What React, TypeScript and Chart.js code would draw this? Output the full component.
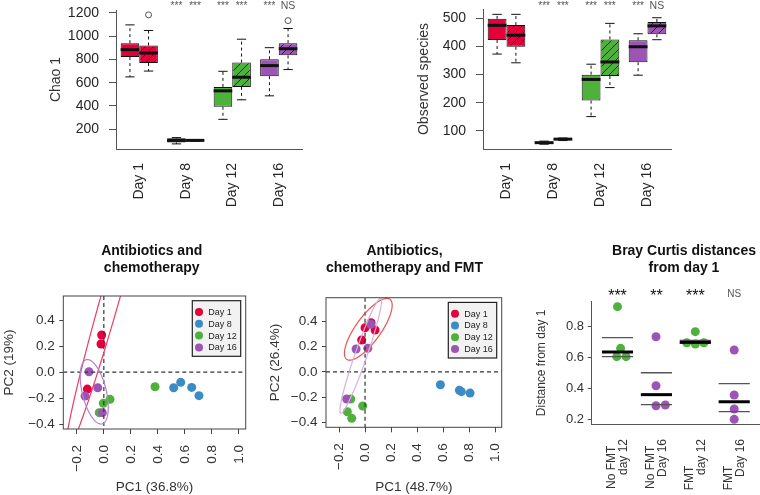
import React, { useEffect, useRef } from 'react';
import { Chart, registerables } from 'chart.js';

Chart.register(...registerables);

const FF = "'Liberation Sans', Arial, Helvetica, sans-serif";

const RED = '#E5003B';
const BLUE = '#3B8BC7';
const GREEN = '#4EB13C';
const PURPLE = '#9D55B5';
const DAY_COLORS = [RED, BLUE, GREEN, PURPLE];
const BOX_COLORS = [RED, '#111111', GREEN, PURPLE];

// ---------------- Top: alpha diversity box plots ----------------
const dayLabels = ['Day 1', 'Day 8', 'Day 12', 'Day 16'];

// five-number summaries: [lower whisker, Q1, median, Q3, upper whisker]
const chaoNoFmt = [[650, 820, 884, 940, 1097], [74, 86, 104, 122, 128], [285, 393, 530, 564, 698], [487, 656, 747, 801, 901]];
const chaoFmt = [[700, 769, 855, 920, 1049], [97, 100, 104, 108, 112], [453, 564, 647, 773, 974], [713, 835, 892, 940, 1066]];
const chaoNoFmtOutliers = [[], [], [], []];
const chaoFmtOutliers = [[1183], [], [], [1134]];
const chaoTicks = [200, 400, 600, 800, 1000, 1200];
const chaoRange = [30, 1225];

const obsNoFmt = [[373, 423, 475, 498, 514], [53, 55, 58.5, 62, 64], [151, 208, 283, 300, 337], [298, 344, 399, 422, 445]];
const obsFmt = [[342, 399, 440, 476, 514], [66, 68.5, 71, 73.5, 75], [254, 295, 345, 425, 482], [424, 443, 473, 487, 502]];
const obsNoFmtOutliers = [[], [], [], []];
const obsFmtOutliers = [[], [], [], []];
const obsTicks = [100, 200, 300, 400, 500];
const obsRange = [36, 533];

const signifNoFmt = ['', '***', '***', '***'];
const signifFmt = ['', '***', '***', 'NS'];

// ---------------- Bottom: PCA ----------------
const pcaLegend = ['Day 1', 'Day 8', 'Day 12', 'Day 16'];
const pcaXTicks = [-0.2, 0, 0.2, 0.4, 0.6, 0.8, 1.0];
const pcaYTicks = [-0.4, -0.2, 0, 0.2, 0.4];
const pcaXRange = [-0.3, 1.05];
const pcaYRange = [-0.438, 0.588];

// Antibiotics and chemotherapy: [PC1, PC2]
const abxDay1 = [[-0.016, 0.287], [-0.021, 0.218], [-0.122, -0.13]];
const abxDay8 = [[0.517, -0.12], [0.569, -0.078], [0.65, -0.117], [0.704, -0.181]];
const abxDay12 = [[-0.004, -0.24], [0.046, -0.209], [-0.034, -0.312], [0.379, -0.112]];
const abxDay16 = [[-0.11, 0.004], [-0.045, -0.12], [-0.139, -0.184], [-0.011, -0.312]];
// ellipses: [centre x, centre y, axis1 x, axis1 y, axis2 x, axis2 y]
const abxEllipseDay1 = [0.051, 0.588, -0.33, -1.213, 0.0668, -0.0198];
const abxEllipseDay16 = [-0.071, -0.151, 0.0577, -0.2477, 0.0863, 0.0218];

// Antibiotics, chemotherapy and FMT
const fmtDay1 = [[-0.026, 0.253], [0, 0.35], [0.046, 0.39], [0.077, 0.332]];
const fmtDay8 = [[0.579, -0.101], [0.725, -0.145], [0.74, -0.156], [0.807, -0.167]];
const fmtDay12 = [[-0.11, -0.214], [-0.136, -0.315], [-0.102, -0.367], [-0.018, -0.269]];
const fmtDay16 = [[0.044, 0.377], [-0.069, 0.182], [0.021, 0.187], [-0.141, -0.214]];
const fmtEllipseDay1 = [0.025, 0.338, 0.166, 0.2375, 0.078, -0.0579];
const fmtEllipseDay16 = [-0.033, 0.128, 0.1537, 0.455, 0.0435, -0.0156];

// ---------------- Bray Curtis ----------------
const brayGroups = [['No FMT  ', 'day 12'], ['No FMT  ', 'Day 16'], ['FMT        ', 'day 12'], ['FMT        ', 'Day 16']];
const brayValues = [[0.93, 0.66, 0.606, 0.606], [0.735, 0.418, 0.288, 0.293], [0.768, 0.696, 0.688, 0.696], [0.649, 0.358, 0.267, 0.2]];
const brayPositions = [[1.0, 1.08, 0.98, 1.22], [1.99, 1.99, 1.99, 2.23], [3.0, 2.78, 3.0, 3.22], [4.0, 4.0, 4.0, 4.0]];
const brayColors = [GREEN, PURPLE, GREEN, PURPLE];
const brayMedian = [0.636, 0.36, 0.699, 0.314];
const brayQ1 = [0.606, 0.295, 0.694, 0.25];
const brayQ3 = [0.729, 0.502, 0.712, 0.431];
const braySignif = ['***', '**', '***', 'NS'];
const brayYTicks = [0.2, 0.4, 0.6, 0.8];
const brayXTicks = [1, 2, 3, 4];
const brayXRange = [0.337, 4.663];
const brayYRange = [0.17, 0.962];

// ---------------- helpers ----------------
const fixW = (w: number) => (s: any) => {
  s.width = w;
  s.paddingTop = 0; s.paddingBottom = 0; s.paddingLeft = 0; s.paddingRight = 0;
};
const fixH = (h: number) => (s: any) => {
  s.height = h;
  s.paddingTop = 0; s.paddingBottom = 0; s.paddingLeft = 0; s.paddingRight = 0;
};
const setTicks = (vals: number[]) => (s: any) => {
  s.ticks = vals.map((v) => ({ value: v }));
};
const fmtNum = (v: number) => (v < 0 ? '\u2212' : '') + Math.abs(v).toFixed(1);

function hatch(color: string): CanvasPattern {
  const s = 8;
  const c = document.createElement('canvas');
  c.width = s; c.height = s;
  const g = c.getContext('2d')!;
  g.fillStyle = color;
  g.fillRect(0, 0, s, s);
  g.strokeStyle = '#1a1a1a';
  g.lineWidth = 0.9;
  g.beginPath();
  g.moveTo(0, s); g.lineTo(s, 0);
  g.moveTo(-2, 2); g.lineTo(2, -2);
  g.moveTo(s - 2, s + 2); g.lineTo(s + 2, s - 2);
  g.stroke();
  return g.createPattern(c, 'repeat')!;
}

type TextItem = { lines: string[]; x: number; y: number; font: string; color: string; lh: number };
const titlePlugin = (items: TextItem[]) => ({
  id: 'titles',
  afterDraw(chart: any) {
    const ctx = chart.ctx;
    ctx.save();
    items.forEach((it) => {
      ctx.font = it.font;
      ctx.fillStyle = it.color;
      ctx.textAlign = 'center';
      ctx.textBaseline = 'alphabetic';
      it.lines.forEach((l, i) => ctx.fillText(l, it.x, it.y + i * it.lh));
    });
    ctx.restore();
  },
});

function ChartCanvas({ left, top, width, height, build }: { left: number; top: number; width: number; height: number; build: () => any }) {
  const ref = useRef<HTMLCanvasElement>(null);
  useEffect(() => {
    const chart = new Chart(ref.current!, build());
    return () => chart.destroy();
  }, []);
  return (
    <canvas
      ref={ref}
      width={width}
      height={height}
      style={{ position: 'absolute', left, top, width, height }}
    />
  );
}

// ---------------- box plot ----------------
function boxConfig(opts: {
  noFmt: number[][]; fmt: number[][]; noFmtOut: number[][]; fmtOut: number[][];
  ticks: number[]; range: number[]; title: string;
  padLeft: number; yWidth: number; padTop: number; padRight: number;
}) {
  const stats = [opts.noFmt, opts.fmt];
  const outs = [opts.noFmtOut, opts.fmtOut];
  const signif = [signifNoFmt, signifFmt];
  const boxExtras = {
    id: 'boxExtras',
    afterDatasetsDraw(chart: any) {
      const ctx = chart.ctx;
      const ys = chart.scales.y;
      ctx.save();
      stats.forEach((series, di) => {
        const meta = chart.getDatasetMeta(di);
        series.forEach((s, j) => {
          const el: any = meta.data[j];
          const x = el.x;
          const w = el.width;
          const [lo, q1, med, q3, hi] = s;
          const pLo = ys.getPixelForValue(lo);
          const pQ1 = ys.getPixelForValue(q1);
          const pMed = ys.getPixelForValue(med);
          const pQ3 = ys.getPixelForValue(q3);
          const pHi = ys.getPixelForValue(hi);
          ctx.strokeStyle = '#111';
          ctx.lineWidth = 1;
          ctx.setLineDash([3, 3]);
          ctx.beginPath();
          ctx.moveTo(x, pQ3); ctx.lineTo(x, pHi);
          ctx.moveTo(x, pQ1); ctx.lineTo(x, pLo);
          ctx.stroke();
          ctx.setLineDash([]);
          ctx.beginPath();
          ctx.moveTo(x - w / 4, pHi); ctx.lineTo(x + w / 4, pHi);
          ctx.moveTo(x - w / 4, pLo); ctx.lineTo(x + w / 4, pLo);
          ctx.stroke();
          ctx.lineWidth = 3;
          ctx.beginPath();
          ctx.moveTo(x - w / 2, pMed); ctx.lineTo(x + w / 2, pMed);
          ctx.stroke();
          ctx.lineWidth = 1;
          ctx.strokeStyle = '#555';
          outs[di][j].forEach((o) => {
            ctx.beginPath();
            ctx.arc(x, ys.getPixelForValue(o), 3, 0, Math.PI * 2);
            ctx.stroke();
          });
          const sig = signif[di][j];
          if (sig) {
            ctx.fillStyle = '#555';
            ctx.textAlign = 'center';
            ctx.textBaseline = 'alphabetic';
            ctx.font = sig === 'NS' ? `10.5px ${FF}` : `10px ${FF}`;
            ctx.fillText(sig, x, 8.5);
          }
        });
      });
      ctx.restore();
    },
  };
  return {
    type: 'bar',
    data: {
      labels: dayLabels,
      datasets: [
        {
          data: opts.noFmt.map((s) => [s[1], s[3]]),
          backgroundColor: BOX_COLORS,
          borderColor: '#111',
          borderWidth: 1,
          borderSkipped: false,
          categoryPercentage: 0.8,
          barPercentage: 1,
        },
        {
          data: opts.fmt.map((s) => [s[1], s[3]]),
          backgroundColor: BOX_COLORS.map((c) => hatch(c)),
          borderColor: '#111',
          borderWidth: 1,
          borderSkipped: false,
          categoryPercentage: 0.8,
          barPercentage: 1,
        },
      ],
    },
    options: {
      responsive: false,
      animation: false,
      events: [],
      layout: { padding: { left: opts.padLeft, top: opts.padTop, right: opts.padRight, bottom: 11 } },
      plugins: { legend: { display: false }, tooltip: { enabled: false } },
      scales: {
        x: {
          type: 'category',
          offset: true,
          grid: { display: false, drawTicks: false },
          border: { display: true, color: '#555', width: 1 },
          ticks: {
            autoSkip: false, minRotation: 90, maxRotation: 90, padding: 14,
            color: '#262626', font: { family: FF, size: 14 },
          },
          afterFit: fixH(70),
        },
        y: {
          min: opts.range[0],
          max: opts.range[1],
          beginAtZero: false,
          afterBuildTicks: setTicks(opts.ticks),
          grid: { display: true, drawOnChartArea: false, drawTicks: true, tickLength: 7, color: '#555' },
          border: { display: true, color: '#555', width: 1 },
          ticks: { padding: 10, color: '#262626', font: { family: FF, size: 14 }, callback: (v: number) => String(v) },
          title: { display: true, text: opts.title, color: '#333', font: { family: FF, size: 14 }, padding: { top: 0, bottom: 0 } },
          afterFit: fixW(opts.yWidth),
        },
      },
    },
    plugins: [boxExtras],
  };
}

// ---------------- PCA ----------------
function pcaConfig(opts: {
  day1: number[][]; day8: number[][]; day12: number[][]; day16: number[][];
  ell1: number[]; ell16: number[]; ell1Color: string; ell16Color: string;
  xTitle: string; yTitle: string; title: string[]; titleX: number;
  padLeft: number; yWidth: number; padTop: number; padRight: number; xHeight: number;
}) {
  const sets = [opts.day1, opts.day8, opts.day12, opts.day16];
  const extras = {
    id: 'pcaExtras',
    afterDatasetsDraw(chart: any) {
      const ctx = chart.ctx;
      const xs = chart.scales.x;
      const ys = chart.scales.y;
      const a = chart.chartArea;
      ctx.save();
      ctx.beginPath();
      ctx.rect(a.left, a.top, a.right - a.left, a.bottom - a.top);
      ctx.clip();
      // zero lines
      ctx.strokeStyle = '#333';
      ctx.lineWidth = 1.2;
      ctx.setLineDash([4, 3]);
      ctx.beginPath();
      ctx.moveTo(a.left, ys.getPixelForValue(0)); ctx.lineTo(a.right, ys.getPixelForValue(0));
      ctx.moveTo(xs.getPixelForValue(0), a.top); ctx.lineTo(xs.getPixelForValue(0), a.bottom);
      ctx.stroke();
      ctx.setLineDash([]);
      const ell = (e: number[], color: string) => {
        const [cx, cy, ax, ay, bx, by] = e;
        ctx.beginPath();
        for (let i = 0; i <= 240; i++) {
          const t = (i / 240) * Math.PI * 2;
          const X = cx + ax * Math.cos(t) + bx * Math.sin(t);
          const Y = cy + ay * Math.cos(t) + by * Math.sin(t);
          const px = xs.getPixelForValue(X);
          const py = ys.getPixelForValue(Y);
          if (i === 0) ctx.moveTo(px, py); else ctx.lineTo(px, py);
        }
        ctx.strokeStyle = color;
        ctx.lineWidth = 1.2;
        ctx.stroke();
      };
      ell(opts.ell1, opts.ell1Color);
      ell(opts.ell16, opts.ell16Color);
      ctx.restore();
      ctx.save();
      // frame
      ctx.strokeStyle = '#444';
      ctx.lineWidth = 1;
      ctx.strokeRect(a.left, a.top, a.right - a.left, a.bottom - a.top);
      // legend
      const lw = 48.4, lh = 55.6;
      const lx = a.right - 5 - lw;
      const ly = a.top + 4.7;
      ctx.fillStyle = '#F2F2F2';
      ctx.fillRect(lx, ly, lw, lh);
      ctx.strokeStyle = '#222';
      ctx.lineWidth = 1.2;
      ctx.strokeRect(lx, ly, lw, lh);
      ctx.font = `9px ${FF}`;
      ctx.textAlign = 'left';
      ctx.textBaseline = 'middle';
      pcaLegend.forEach((name, i) => {
        const yy = ly + 11.3 + i * 11.8;
        ctx.fillStyle = DAY_COLORS[i];
        ctx.beginPath();
        ctx.arc(lx + 6.7, yy, 4, 0, Math.PI * 2);
        ctx.fill();
        ctx.fillStyle = '#222';
        ctx.fillText(name, lx + 16, yy + 0.5);
      });
      ctx.restore();
    },
  };
  return {
    type: 'scatter',
    data: {
      datasets: sets.map((pts, i) => ({
        label: pcaLegend[i],
        data: pts.map((p) => ({ x: p[0], y: p[1] })),
        backgroundColor: DAY_COLORS[i],
        borderWidth: 0,
        pointRadius: 4.5,
        pointHoverRadius: 4.5,
        order: 4 - i,
      })),
    },
    options: {
      responsive: false,
      animation: false,
      events: [],
      layout: { padding: { left: opts.padLeft, top: opts.padTop, right: opts.padRight, bottom: 0 } },
      plugins: { legend: { display: false }, tooltip: { enabled: false } },
      scales: {
        x: {
          type: 'linear',
          min: pcaXRange[0],
          max: pcaXRange[1],
          afterBuildTicks: setTicks(pcaXTicks),
          grid: { display: true, drawOnChartArea: false, drawTicks: true, tickLength: 5, color: '#444' },
          border: { display: false },
          ticks: {
            autoSkip: false, minRotation: 90, maxRotation: 90, padding: 11,
            color: '#333', font: { family: FF, size: 13.5 },
            callback: (v: number) => fmtNum(v),
          },
          title: { display: true, text: opts.xTitle, color: '#333', font: { family: FF, size: 13.5 }, padding: { top: 0, bottom: 0 } },
          afterFit: fixH(opts.xHeight),
        },
        y: {
          type: 'linear',
          min: pcaYRange[0],
          max: pcaYRange[1],
          afterBuildTicks: setTicks(pcaYTicks),
          grid: { display: true, drawOnChartArea: false, drawTicks: true, tickLength: 4, color: '#444' },
          border: { display: false },
          ticks: {
            padding: 4.5, color: '#333', font: { family: FF, size: 13.5 },
            callback: (v: number) => fmtNum(v),
          },
          title: { display: true, text: opts.yTitle, color: '#333', font: { family: FF, size: 13.5 }, padding: { top: 0, bottom: 0 } },
          afterFit: fixW(opts.yWidth),
        },
      },
    },
    plugins: [
      extras,
      titlePlugin([{ lines: opts.title, x: opts.titleX, y: 24.5, font: `bold 14px ${FF}`, color: '#111', lh: 17.5 }]),
    ],
  };
}

// ---------------- Bray Curtis ----------------
function brayConfig() {
  const extras = {
    id: 'brayExtras',
    afterDatasetsDraw(chart: any) {
      const ctx = chart.ctx;
      const xs = chart.scales.x;
      const ys = chart.scales.y;
      ctx.save();
      brayXTicks.forEach((c, i) => {
        const x1 = xs.getPixelForValue(c - 0.4);
        const x2 = xs.getPixelForValue(c + 0.4);
        ctx.strokeStyle = '#555';
        ctx.lineWidth = 1.3;
        ctx.beginPath();
        ctx.moveTo(x1, ys.getPixelForValue(brayQ1[i])); ctx.lineTo(x2, ys.getPixelForValue(brayQ1[i]));
        ctx.moveTo(x1, ys.getPixelForValue(brayQ3[i])); ctx.lineTo(x2, ys.getPixelForValue(brayQ3[i]));
        ctx.stroke();
        ctx.strokeStyle = '#000';
        ctx.lineWidth = 3;
        ctx.beginPath();
        ctx.moveTo(x1, ys.getPixelForValue(brayMedian[i])); ctx.lineTo(x2, ys.getPixelForValue(brayMedian[i]));
        ctx.stroke();
        const sig = braySignif[i];
        const cx = xs.getPixelForValue(c);
        ctx.textAlign = 'center';
        ctx.textBaseline = 'alphabetic';
        if (sig === 'NS') {
          ctx.fillStyle = '#555';
          ctx.font = `10px ${FF}`;
          ctx.fillText(sig, cx, 66.5);
        } else {
          ctx.fillStyle = '#111';
          ctx.font = `16px ${FF}`;
          ctx.fillText(sig, cx, 70.8);
        }
      });
      ctx.restore();
    },
  };
  return {
    type: 'scatter',
    data: {
      datasets: brayValues.map((vals, i) => ({
        label: brayGroups[i].join(' '),
        data: vals.map((v, k) => ({ x: brayPositions[i][k], y: v })),
        backgroundColor: brayColors[i],
        borderWidth: 0,
        pointRadius: 4.5,
        pointHoverRadius: 4.5,
      })),
    },
    options: {
      responsive: false,
      animation: false,
      events: [],
      layout: { padding: { left: 24.5, top: 71.7, right: 20, bottom: 0 } },
      plugins: { legend: { display: false }, tooltip: { enabled: false } },
      scales: {
        x: {
          type: 'linear',
          min: brayXRange[0],
          max: brayXRange[1],
          afterBuildTicks: setTicks(brayXTicks),
          grid: { display: false, drawTicks: false },
          border: { display: true, color: '#555', width: 1 },
          ticks: {
            autoSkip: false, minRotation: 90, maxRotation: 90, padding: 15, labelOffset: -6,
            color: '#333', font: { family: FF, size: 12, lineHeight: 1 },
            callback: (v: number) => brayGroups[brayXTicks.indexOf(v)],
          },
          afterFit: fixH(71),
        },
        y: {
          type: 'linear',
          min: brayYRange[0],
          max: brayYRange[1],
          afterBuildTicks: setTicks(brayYTicks),
          grid: { display: true, drawOnChartArea: false, drawTicks: true, tickLength: 4, color: '#555' },
          border: { display: true, color: '#555', width: 1 },
          ticks: { padding: 3.7, color: '#333', font: { family: FF, size: 13 }, callback: (v: number) => fmtNum(v) },
          title: { display: true, text: 'Distance from day 1', color: '#333', font: { family: FF, size: 12 }, padding: { top: 0, bottom: 0 } },
          afterFit: fixW(57.2),
        },
      },
    },
    plugins: [
      extras,
      titlePlugin([{ lines: ['Bray Curtis distances', 'from day 1'], x: 174, y: 24.5, font: `bold 14px ${FF}`, color: '#111', lh: 17.5 }]),
    ],
  };
}

export default function App() {
  return (
    <div style={{ position: 'fixed', left: 0, top: 0, width: 760, height: 495, overflow: 'hidden', background: '#fff' }}>
      <ChartCanvas
        left={0} top={0} width={380} height={230}
        build={() => boxConfig({
          noFmt: chaoNoFmt, fmt: chaoFmt, noFmtOut: chaoNoFmtOutliers, fmtOut: chaoFmtOutliers,
          ticks: chaoTicks, range: chaoRange, title: 'Chao 1',
          padLeft: 48, yWidth: 68, padTop: 10, padRight: 78,
        })}
      />
      <ChartCanvas
        left={380} top={0} width={380} height={230}
        build={() => boxConfig({
          noFmt: obsNoFmt, fmt: obsFmt, noFmtOut: obsNoFmtOutliers, fmtOut: obsFmtOutliers,
          ticks: obsTicks, range: obsRange, title: 'Observed species',
          padLeft: 36, yWidth: 67, padTop: 9, padRight: 89,
        })}
      />
      <ChartCanvas
        left={0} top={230} width={255} height={265}
        build={() => pcaConfig({
          day1: abxDay1, day8: abxDay8, day12: abxDay12, day16: abxDay16,
          ell1: abxEllipseDay1, ell16: abxEllipseDay16, ell1Color: '#EE3B63', ell16Color: '#B380CC',
          xTitle: 'PC1 (36.8%)', yTitle: 'PC2 (19%)', title: ['Antibiotics and', 'chemotherapy'], titleX: 151.7,
          padLeft: 1.6, yWidth: 61.7, padTop: 66, padRight: 9.3, xHeight: 66,
        })}
      />
      <ChartCanvas
        left={255} top={230} width={255} height={265}
        build={() => pcaConfig({
          day1: fmtDay1, day8: fmtDay8, day12: fmtDay12, day16: fmtDay16,
          ell1: fmtEllipseDay1, ell16: fmtEllipseDay16, ell1Color: '#F0514F', ell16Color: '#D6B0E3',
          xTitle: 'PC1 (48.7%)', yTitle: 'PC2 (26.4%)', title: ['Antibiotics,', 'chemotherapy and FMT'], titleX: 149.5,
          padLeft: 11.9, yWidth: 59.1, padTop: 67.7, padRight: 8.3, xHeight: 67.7,
        })}
      />
      <ChartCanvas left={510} top={230} width={270} height={265} build={() => brayConfig()} />
    </div>
  );
}
